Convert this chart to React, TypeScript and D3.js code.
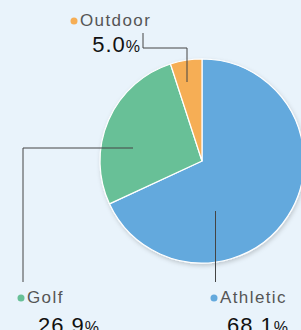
import * as d3 from "d3"

const categories = ["Athletic", "Golf", "Outdoor"]
const shares = [68.1, 26.9, 5.0]
const colors = ["#63a9dd", "#67c097", "#f6ae55"]

// label layout: leader polyline (relative to pie center) + text anchor
const leaders: [number, number][][] = [
  [[13.5, 50], [13.5, 121]],
  [[-69, -13], [-179, -13], [-179, 121]],
  [[-15, -79], [-15, -113], [-59, -113], [-59, -128]],
]
const labelPos = [
  { x: 220, y: 303, nx: 227, ny: 333, anchor: "start" },
  { x: 27, y: 303, nx: 38, ny: 333, anchor: "start" },
  { x: 80, y: 26, nx: 141, ny: 52, anchor: "end" },
]

const W = 301
const H = 330
const cx = 202
const cy = 161
const R = 102

export default function App() {
  const pie = d3.pie<number>().sort(null).value((d) => d)
  const arcs = pie(shares)
  const arc = d3.arc<d3.PieArcDatum<number>>().innerRadius(0).outerRadius(R)
  const line = d3.line()

  return (
    <svg width={W} height={H} style={{ position: "absolute", left: 0, top: 0, display: "block" }}>
      <defs>
        <filter id="sh" x="-20%" y="-20%" width="140%" height="140%">
          <feDropShadow dx="1" dy="2" stdDeviation="2" floodColor="#000" floodOpacity="0.18" />
        </filter>
      </defs>
      <rect width={W} height={H} fill="#e9f3fb" />
      <g transform={`translate(${cx},${cy})`}>
        <g filter="url(#sh)">
          {arcs.map((a, i) => (
            <path key={i} d={arc(a) as string} fill={colors[i]} stroke="#fff" strokeWidth={1.2} strokeLinejoin="round" />
          ))}
        </g>
        {leaders.map((pts, i) => (
          <path key={i} d={line(pts) as string} fill="none" stroke="#444" strokeWidth={1} />
        ))}
      </g>
      {categories.map((c, i) => {
        const p = labelPos[i]
        return (
          <g key={c} fontFamily="Liberation Sans, Arial, sans-serif">
            <circle cx={p.x - 6} cy={p.y - 5} r={3.5} fill={colors[i]} />
            <text x={p.x} y={p.y} fontSize={17} letterSpacing={1.4} fill="#555">{c}</text>
            <text x={p.nx} y={p.ny} fontSize={22} letterSpacing={1} fill="#111" textAnchor={p.anchor}>
              {shares[i].toFixed(1)}
              <tspan fontSize={16}>%</tspan>
            </text>
          </g>
        )
      })}
    </svg>
  )
}
